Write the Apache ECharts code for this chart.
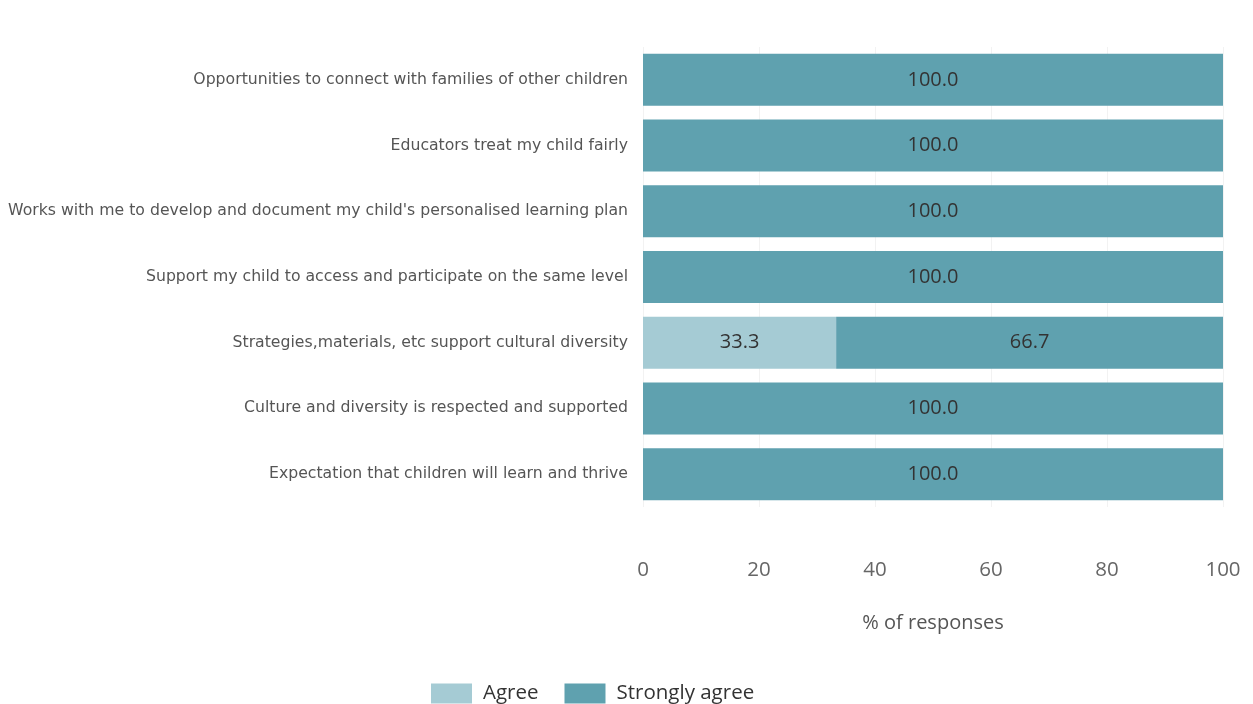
<!DOCTYPE html>
<html><head><meta charset="utf-8">
<script src="https://cdn.jsdelivr.net/npm/echarts@6/dist/echarts.min.js"></script>
<style>html,body{margin:0;padding:0;background:#fff}#c{width:1253px;height:704px}</style>
</head><body><div id="c"></div>
<script>
const categories = [
  "Opportunities to connect with families of other children",
  "Educators treat my child fairly",
  "Works with me to develop and document my child's personalised learning plan",
  "Support my child to access and participate on the same level",
  "Strategies,materials, etc support cultural diversity",
  "Culture and diversity is respected and supported",
  "Expectation that children will learn and thrive"
];
const agree = [0, 0, 0, 0, 33.3, 0, 0];
const stronglyAgree = [100, 100, 100, 100, 66.7, 100, 100];
const xTicks = [0, 20, 40, 60, 80, 100];

const chart = echarts.init(document.getElementById('c'));
const labelCfg = {
  show: true, position: 'inside', fontSize: 20, color: '#333',
  fontFamily: 'Open Sans',
  formatter: p => p.value > 0 ? p.value.toFixed(1) : ''
};
chart.setOption({
  animation: false,
  textStyle: { fontFamily: 'Open Sans' },
  grid: { left: 643, right: 30, top: 47, bottom: 197, containLabel: false },
  xAxis: {
    type: 'value', min: 0, max: 100, interval: 20,
    name: '% of responses', nameLocation: 'middle', nameGap: 80,
    nameMoveOverlap: false,
    nameTextStyle: { fontSize: 20, color: '#555', padding: [26, 0, 0, 0] },
    axisLabel: { fontSize: 20.5, color: '#666', margin: 53, formatter: v => xTicks.includes(v) ? String(v) : '' },
    axisLine: { show: false }, axisTick: { show: false },
    splitLine: { show: true, lineStyle: { color: '#f2f2f2', width: 1 } }
  },
  yAxis: {
    type: 'category', inverse: true, data: categories,
    axisLine: { show: false }, axisTick: { show: false },
    axisLabel: { fontSize: 15.7, color: '#555', margin: 15, fontFamily: 'DejaVu Sans' }
  },
  legend: {
    bottom: -5, left: 426, itemWidth: 41, itemHeight: 20, itemGap: 26,
    icon: 'rect',
    textStyle: { fontSize: 20.5, color: '#333', padding: [0, 0, 0, 6] },
    data: ['Agree', 'Strongly agree']
  },
  series: [
    { name: 'Agree', type: 'bar', stack: 's', data: agree, barWidth: 52,
      itemStyle: { color: '#a5cbd4' }, label: labelCfg },
    { name: 'Strongly agree', type: 'bar', stack: 's', data: stronglyAgree, barWidth: 52,
      itemStyle: { color: '#5fa1af' }, label: labelCfg }
  ]
});
</script></body></html>
